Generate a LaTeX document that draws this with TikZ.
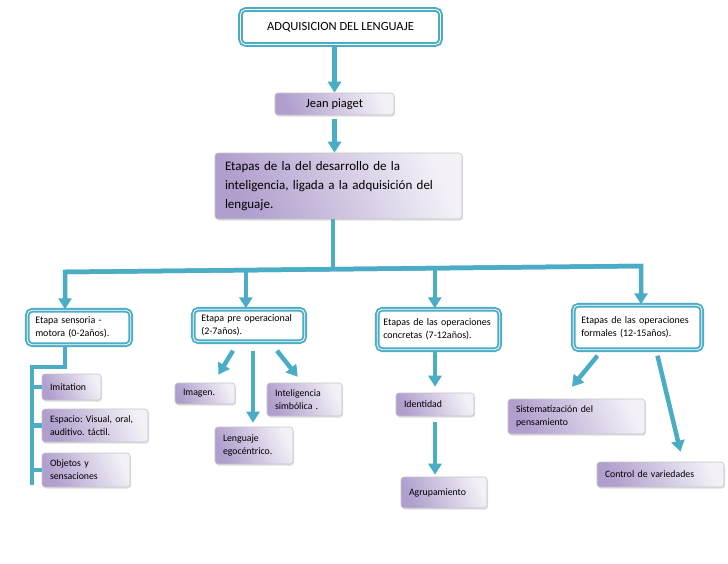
\documentclass[tikz,border=0pt]{standalone}
\usepackage{fontspec}
\setmainfont{Carlito}
\frenchspacing
\usetikzlibrary{arrows.meta,calc,shadows}
\definecolor{linkteal}{RGB}{75,172,198}
\definecolor{lilaDark}{RGB}{176,158,205}
\definecolor{lilaLight}{RGB}{243,240,247}
\tikzset{
  link/.style={draw=linkteal, line width=4.5pt},
  arrow/.style={link, -{Triangle[width=13pt,length=11pt]}},
  tealbox/.style={draw=linkteal, line width=1.9pt, double=white, double distance=0.8pt,
    rounded corners=5pt, fill=white, inner xsep=8pt, inner ysep=2pt, align=left,
    font=\fontsize{10}{13}\selectfont},
  lilabox/.style={draw=gray!45, line width=0.6pt, rounded corners=3pt,
    left color=lilaDark, right color=lilaLight, shading angle=115,
    drop shadow={shadow xshift=1pt, shadow yshift=-1.5pt, opacity=0.25},
    inner xsep=8pt, inner ysep=2pt, align=left, font=\fontsize{9.8}{13}\selectfont}
}

\begin{document}
\begin{tikzpicture}[x=1pt,y=-1pt]
\useasboundingbox[fill=white] (0,0) rectangle (728,563);

% Title and author
\node[tealbox, align=center, font=\fontsize{12.5}{15}\selectfont, minimum width=200pt, minimum height=35pt] (title) at (340.5,27) {ADQUISICION DEL LENGUAJE};
\node[lilabox, align=center, font=\fontsize{12.5}{15}\selectfont, minimum width=119pt, minimum height=22pt] (jean) at (334.5,104) {Jean piaget};
\node[lilabox, text width=227pt, inner xsep=10pt, minimum height=66pt, font=\fontsize{13}{19}\selectfont] (main) at (338.5,186) {Etapas de la del desarrollo de la\\inteligencia, ligada a la adquisición del\\lenguaje.};

% Stages
\node[tealbox, text width=87.5pt, minimum height=34.5pt] (sensor) at (79,327.5) {Etapa sensoria -\\motora (0-2años).};
\node[tealbox, text width=95.5pt, minimum height=32.5pt] (preop) at (249,325.5) {Etapa pre operacional\\(2-7años).};
\node[tealbox, text width=110.5pt, inner xsep=6pt, minimum height=40.5pt] (concr) at (438.5,329.5) {Etapas de las operaciones\\concretas (7-12años).};
\node[tealbox, text width=112.5pt, minimum height=44.5pt] (formal) at (637.5,327.5) {Etapas de las operaciones\\formales (12-15años).};

% Leaves
\node[lilabox, text width=43pt, minimum height=26pt] (imit) at (71.5,387) {Imitation};
\node[lilabox, text width=90pt, minimum height=33pt] (espacio) at (95,425.5) {Espacio: Visual, oral,\\auditivo. táctil.};
\node[lilabox, text width=72pt, minimum height=34pt] (objetos) at (86,470) {Objetos y\\sensaciones};
\node[lilabox, text width=44pt, minimum height=21pt] (imagen) at (205,393.5) {Imagen.};
\node[lilabox, text width=59pt, minimum height=33pt] (intel) at (304.5,399.5) {Inteligencia\\simbólica .};
\node[lilabox, text width=62pt, minimum height=37pt] (lengua) at (254,445.5) {Lenguaje\\egocéntrico.};
\node[lilabox, text width=62pt, minimum height=23pt] (ident) at (435,404.5) {Identidad};
\node[lilabox, text width=70pt, minimum height=31pt] (agrup) at (444,492.5) {Agrupamiento};
\node[lilabox, text width=121pt, minimum height=35pt] (sistem) at (576.5,416.5) {Sistematización del\\pensamiento};
\node[lilabox, text width=111pt, minimum height=25pt] (control) at (660.5,474.5) {Control de variedades};

% Bus
\coordinate (bus west) at (65,272);
\coordinate (bus east) at (641,266);
\coordinate (hub) at ($(bus west)!0.465!(bus east)$);
\coordinate (bus pre) at ($(bus west)!0.314!(bus east)$);
\coordinate (bus concr) at ($(bus west)!0.642!(bus east)$);

\draw[arrow] (jean.north |- title.south) -- (jean.north);
\draw[arrow] ($(jean.south)+(0,4)$) -- (jean.south |- main.north);
\draw[link] (hub |- main.south) -- (hub);
\draw[arrow] (bus east) -- (bus west) -- (bus west |- sensor.north);
\draw[arrow] (bus west) -- (bus east) -- (bus east |- formal.north);
\draw[arrow] (bus pre) -- (bus pre |- preop.north);
\draw[arrow] (bus concr) -- (bus concr |- concr.north);

% Sensorimotor list
\coordinate (spine top) at (65,367);
\coordinate (spine foot) at (32,485);
\draw[link] (spine top |- sensor.south) -- (spine top) -| (spine foot);
\foreach \leaf in {imit,espacio,objetos}
  \draw[link] (\leaf.west -| spine foot) -- (\leaf.west);

% Other stages
\draw[arrow] ($(preop.south)+(-16,8)$) -- ($(imagen.north east)+(-17,-8)$);
\draw[arrow] ($(preop.south)+(4,8)$) -- ($(lengua.north)+(-1,-4)$);
\draw[arrow] ($(preop.south)+(28,8)$) -- ($(intel.north west)+(31,-6)$);
\draw[arrow] (ident.north |- concr.south) -- ($(ident.north)+(0,-6)$);
\draw[arrow] ($(ident.south)+(0,6)$) -- ($(ident.south |- agrup.north)+(0,-2)$);
\draw[arrow] ($(formal.south)+(-40,5)$) -- ($(sistem.north)+(-4.5,-12)$);
\draw[arrow] ($(formal.south)+(20,5)$) -- ($(control.north)+(20,-10)$);
\end{tikzpicture}
\end{document}
